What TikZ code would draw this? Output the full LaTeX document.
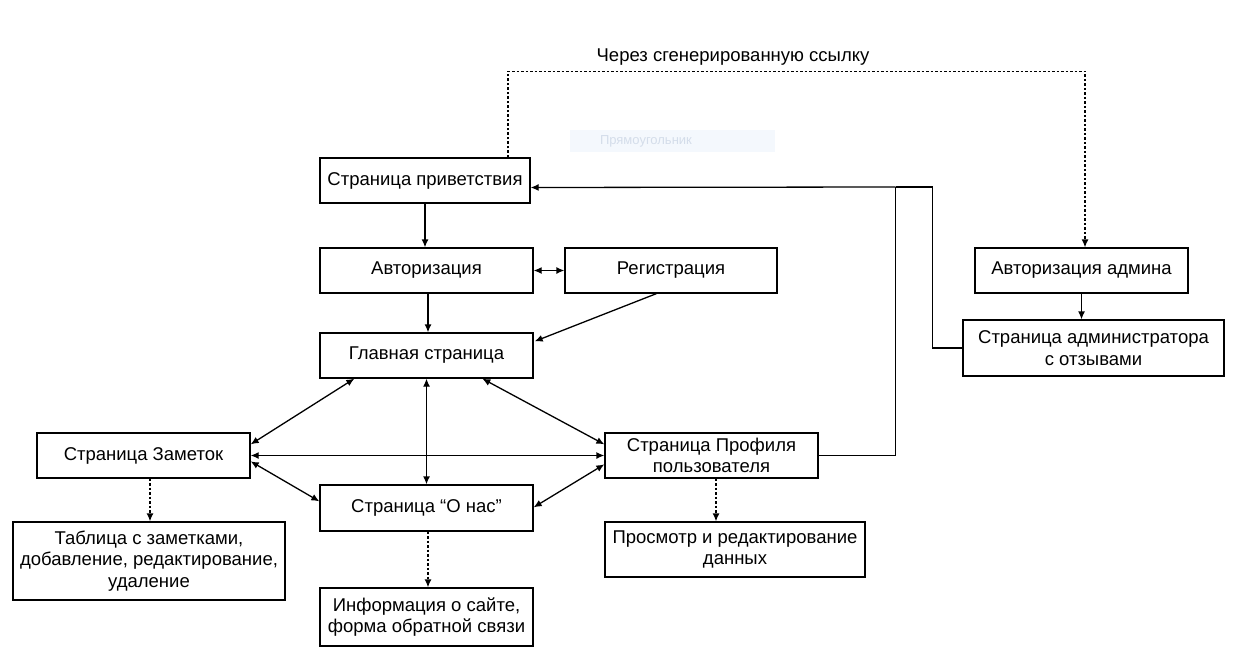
\documentclass[tikz,border=0pt]{standalone}
\usepackage{fontspec}
\setmainfont{Liberation Sans}
\usetikzlibrary{arrows.meta,calc}
\definecolor{faintfill}{RGB}{244,248,253}
\definecolor{fainttext}{RGB}{212,221,234}
\tikzset{
  box/.style={draw=black, line width=1.3pt, fill=white, inner sep=2pt, align=center,
    font=\fontsize{18.5}{21.5}\selectfont},
  conn/.style={line width=1.3pt, -{Latex[length=8pt,width=7pt]}},
  biconn/.style={line width=1.3pt, {Latex[length=8pt,width=7pt]}-{Latex[length=8pt,width=7pt]}},
  dotconn/.style={line width=1.3pt, dash pattern=on 2.5pt off 2pt, -{Latex[length=8pt,width=7pt]}},
  plain/.style={line width=1.3pt},
}
\begin{document}
\begin{tikzpicture}[x=1pt,y=-1pt]
\fill[white] (0,0) rectangle (1255,658);
\useasboundingbox (0,0) rectangle (1255,658);

\node[fill=faintfill, minimum height=22pt, text width=145pt, inner xsep=30pt, inner ysep=0pt, align=left,
  text=fainttext, font=\fontsize{13}{15}\selectfont] (faint) at (672.5,141) {Прямоугольник};

\node[box, minimum width=210pt, minimum height=45pt] (welcome) at (425,180.5) {Страница приветствия};
\node[box, minimum width=213pt, minimum height=45pt] (auth) at (426.5,270.5) {Авторизация};
\node[box, minimum width=212pt, minimum height=45pt] (reg) at (671,270.5) {Регистрация};
\node[box, minimum width=213pt, minimum height=45pt] (main) at (426.5,355.5) {Главная страница};
\node[box, minimum width=213pt, minimum height=45pt] (notes) at (143.5,455.5) {Страница Заметок};
\node[box, minimum width=213pt, minimum height=46pt] (about) at (426.5,508) {Страница “О нас”};
\node[box, minimum width=213pt, minimum height=45pt] (profile) at (711.5,455.5) {Страница Профиля\\пользователя};
\node[box, minimum width=272pt, minimum height=78pt] (table) at (149,561) {Таблица с заметками,\\добавление, редактирование,\\удаление};
\node[box, minimum width=213pt, minimum height=58pt] (info) at (426.5,617) {Информация о сайте,\\форма обратной связи};
\node[box, minimum width=260pt, minimum height=55pt] (view) at (735,549.5) {Просмотр и редактирование\\данных};
\node[box, minimum width=213pt, minimum height=45pt] (adminauth) at (1081.5,270.5) {Авторизация админа};
\node[box, minimum width=261pt, minimum height=56pt] (adminpage) at (1093.5,348) {Страница администратора\\с отзывами};

\node[font=\fontsize{18.5}{21.5}\selectfont, inner sep=0pt] (via) at (733,57) {Через сгенерированную ссылку};

% dotted link from welcome to admin auth
\draw[dotconn] ($(welcome.north)+(83,0)$) -- ++(0,-86) -| ($(adminauth.north)+(3.5,0)$);

% welcome -> auth -> main
\draw[conn] (welcome.south) -- (welcome.south |- auth.north);
\draw[biconn] (auth.east) -- (reg.west);
\draw[conn] ($(auth.south)+(1.5,0)$) -- ($(main.north)+(1.5,0)$);
\draw[conn] ($(reg.south west)+(92,0)$) -- ($(main.north east)+(1,9)$);

% main hub
\draw[biconn] ($(main.south west)+(35,0)$) -- ($(notes.north east)+(0,12)$);
\draw[biconn] (main.south) -- (about.north);
\draw[biconn] ($(main.south west)+(163,0)$) -- ($(profile.north west)+(0,12)$);
\draw[biconn] (notes.east) -- (profile.west);
\draw[biconn] ($(notes.north east)+(0,29)$) -- ($(about.north west)+(0,17)$);
\draw[biconn] ($(about.north east)+(0,23)$) -- ($(profile.north west)+(0,32)$);

% dotted sub pages
\draw[dotconn] ($(notes.south)+(6.5,0)$) -- ($(table.north)+(1,0)$);
\draw[dotconn] ($(about.south)+(1.5,0)$) -- ($(info.north)+(1.5,0)$);
\draw[dotconn] ($(profile.south)+(4.5,0)$) -- ($(view.north)-(19,0)$);

% admin
\draw[conn] (adminauth.south) -- (adminauth.south |- adminpage.north);

% back to welcome
\coordinate (junc) at ($(profile.east)+(77,0)$);
\coordinate (junctop) at (junc |- 0,187);
\draw[plain] (profile.east) -- (junc) -- (junctop);
\draw[conn] (junctop) -- ($(welcome.east)+(0,7)$);
\draw[plain] (adminpage.west) -- ++(-30,0) |- (junctop);
\end{tikzpicture}
\end{document}
